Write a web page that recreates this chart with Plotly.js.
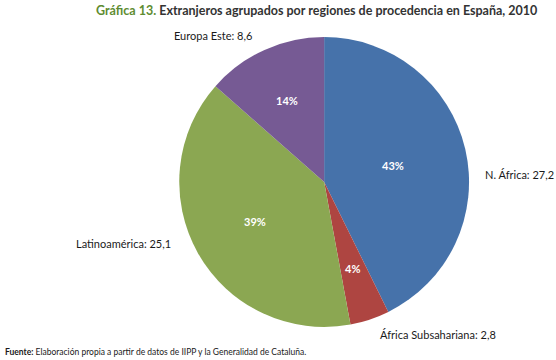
<!DOCTYPE html>
<html>
<head>
<meta charset="utf-8">
<script src="https://cdn.plot.ly/plotly-3.0.1.min.js"></script>
<style>
  html, body { margin: 0; padding: 0; background: #fff; }
  #chart { width: 556px; height: 360px; }
</style>
</head>
<body>
<div id="chart"></div>
<script>
// Data
const regions = ['N. África', 'África Subsahariana', 'Latinoamérica', 'Europa Este'];
const values = [27.2, 2.8, 25.1, 8.6];
const sliceColors = ['#4672AA', '#AE4541', '#8BA752', '#765A94'];

// Outer label spots (paper coords) and anchors, one per region
const labelX = [0.868, 0.68, 0.312, 0.456];
const labelY = [0.514, 0.07, 0.325, 0.9];
const labelAnchor = ['left', 'left', 'right', 'right'];
// how far out along each slice's middle the percent sits (fraction of radius)
const pctRadius = [0.49, 0.63, 0.55, 0.62];

const font = 'Lato, "Open Sans", sans-serif';
const W = 556, H = 360;
const dom = { x: [0.322, 0.844], y: [0.092, 0.897] };

function fmt(v) { return v.toString().replace('.', ','); }

const trace = {
    type: 'pie',
    labels: regions,
    values: values,
    sort: false,
    direction: 'clockwise',
    rotation: 0,
    marker: { colors: sliceColors, line: { width: 0 } },
    textinfo: 'none',
    hoverinfo: 'label+value+percent',
    domain: dom,
    showlegend: false
};

const annotations = regions.map((r, i) => ({
    text: r + ': ' + fmt(values[i]),
    x: labelX[i], y: labelY[i], xref: 'paper', yref: 'paper',
    xanchor: labelAnchor[i], yanchor: 'middle',
    showarrow: false,
    font: { family: font, size: 11, color: '#1a1a1a' }
}));

// percent labels placed along each slice's mid angle
const total = values.reduce((a, b) => a + b, 0);
const cx = (dom.x[0] + dom.x[1]) / 2 * W;
const cy = (1 - (dom.y[0] + dom.y[1]) / 2) * H;
const R = Math.min((dom.x[1] - dom.x[0]) * W, (dom.y[1] - dom.y[0]) * H) / 2;
let cum = 0;
values.forEach((v, i) => {
    const mid = (cum + v / 2) / total * 2 * Math.PI;
    cum += v;
    const px = cx + pctRadius[i] * R * Math.sin(mid);
    const py = cy - pctRadius[i] * R * Math.cos(mid);
    annotations.push({
        text: Math.round(v / total * 100) + '%',
        x: px / W, y: 1 - py / H, xref: 'paper', yref: 'paper',
        xanchor: 'center', yanchor: 'middle', showarrow: false,
        font: { family: font, size: 11, color: '#ffffff', weight: 'bold' }
    });
});

annotations.push({
    text: '<span style="color:#5E8C31">Gráfica 13.</span> Extranjeros agrupados por regiones de procedencia en España, 2010',
    x: 0.57, y: 0.972, xref: 'paper', yref: 'paper',
    xanchor: 'center', yanchor: 'middle', showarrow: false,
    font: { family: font, size: 12.5, color: '#333333', weight: 'bold' }
});

annotations.push({
    text: '<b>Fuente:</b> Elaboración propia a partir de datos de IIPP y la Generalidad de Cataluña.',
    x: 0.005, y: 0.022, xref: 'paper', yref: 'paper',
    xanchor: 'left', yanchor: 'middle', showarrow: false,
    font: { family: font, size: 8.5, color: '#1a1a1a' }
});

const layout = {
    width: W,
    height: H,
    margin: { l: 0, r: 0, t: 0, b: 0 },
    paper_bgcolor: '#ffffff',
    annotations: annotations
};

Plotly.newPlot('chart', [trace], layout, { displayModeBar: false, staticPlot: true });
</script>
</body>
</html>
